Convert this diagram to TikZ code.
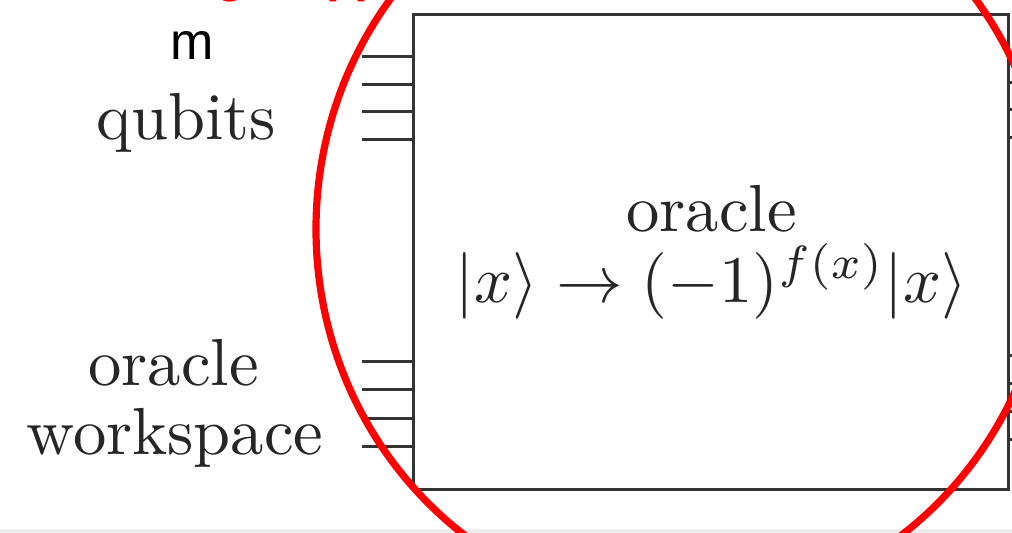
\documentclass[tikz,border=0pt]{standalone}
\usepackage{graphicx}
\usepackage{fontspec}
\newfontfamily\arialfont{Liberation Sans}
\newcommand{\bigtxt}[1]{\scalebox{3.33}{#1}}
\begin{document}
\begin{tikzpicture}[x=0.5pt,y=-0.5pt,
  wire/.style={draw=black!80, line width=1.5pt},
  lbl/.style={anchor=base, inner sep=0pt, text=black!85},
  redring/.style={draw=red, line width=3.6pt}]
\useasboundingbox (0,0) rectangle (1012,533);
\fill[black!7] (0,529) rectangle (1012,533);
% wires left
\foreach \y [count=\i] in {57,85,112,140,362,390,419,447}{
  \coordinate (l\i) at (362,\y);
  \coordinate (lb\i) at (413,\y);
  \draw[wire] (l\i) -- (lb\i);
}
% wires right
\foreach \y [count=\i] in {55,83,110,138,356,384,412,440}{
  \coordinate (r\i) at (1008,\y);
  \coordinate (re\i) at (1014,\y);
  \draw[wire] (r\i) -- (re\i);
}
\node[draw=black!80, line width=1.5pt, minimum width=297.5pt, minimum height=237.5pt, inner sep=0pt] (box) at (710.5,252.5) {};
\node[lbl] (orc) at (711.5,232) {\bigtxt{oracle}};
\node[lbl] (fx) at (711.5,303) {\bigtxt{$|x\rangle \rightarrow (-1)^{f(x)}|x\rangle$}};
\node[lbl] (qub) at (186,140) {\bigtxt{qubits}};
\node[lbl] (orw) at (173.5,386) {\bigtxt{oracle}};
\node[lbl] (wsp) at (175,455) {\bigtxt{workspace}};
\node[anchor=base, inner sep=0pt, text=black, font=\arialfont\fontsize{26}{30}\selectfont] (m) at (192,60) {m};
\node[anchor=base west, inner sep=0pt, text=red, font=\arialfont\bfseries\fontsize{25}{30}\selectfont] (top) at (215,-8) {group)};
\draw[redring] (683,229) ellipse [x radius=183.5pt, y radius=190.5pt];
\end{tikzpicture}
\end{document}
